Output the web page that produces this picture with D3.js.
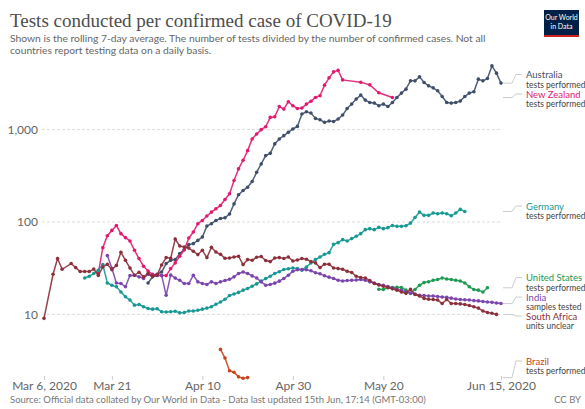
<!DOCTYPE html>
<html>
<head>
<meta charset="utf-8">
<script src="https://cdn.jsdelivr.net/npm/d3@7/dist/d3.min.js"></script>
<style>
body { margin: 0; background: #fff; }
text { font-family: Lato, "Open Sans", sans-serif; }
</style>
</head>
<body>
<svg id="chart" width="585" height="409"></svg>
<script>
// x axis ticks
var tickDates = ["2020-03-06", "2020-03-21", "2020-04-10", "2020-04-30", "2020-05-20", "2020-06-15"];
var tickLabels = ["Mar 6, 2020", "Mar 21", "Apr 10", "Apr 30", "May 20", "Jun 15, 2020"];
// y axis ticks
var yTicks = [10, 100, 1000];
var yTickLabels = ["10", "100", "1,000"];

// series, one value per day from the first date (null = no report that day)
var countries = ["Australia", "New Zealand", "Germany", "United States", "India", "South Africa", "Brazil"];
var notes = ["tests performed", "tests performed", "tests performed", "tests performed", "samples tested", "units unclear", "tests performed"];
var firstDates = ["2020-03-29", "2020-03-18", "2020-03-15", "2020-05-19", "2020-03-20", "2020-03-06", "2020-04-14"];

var australia = [21.9, 25.5, 27.2, 28.8, 35.5, 38.5, 39.2, 45.5, 50.2, 56.9, 58.3, 63.2, 68.7, 90.3, 95.9, 104, 109, 111, 122, 157,
  197, 219, 238, 274, 345, 425, 523, 553, 700, 792, 860, 933, 1015, 1083, 1473, 1560, 1510, 1321, 1279, 1197,
  1239, 1225, 1300, 1436, 1693, 1888, 2138, 2362, 2085, 1965, 1936, 1811, 1888, 1778, 1965, 2223, 2483, 2740, 3367, 3367,
  3721, 3228, 2975, 2831, 2630, 2281, 1965, 1936, 1965, 2033, 2281, 2483, 2564, 3513, 3367, 3566, 4887, 4083, 3184];
var newZealand = [28, 52.8, 71.1, 81.1, 91.8, 74.8, 67.7, 62.3, 49.4, 40.2, 33.2, 29.5, 27.2, 26.5, 26.3, 26.3, 31.3, 36.1, 42.6, 50,
  67, 77.8, 95.9, 104, 116, 128, 139, 151, 175, 202, 281, 376, 466, 592, 792, 897, 998, 1075, 1355, 1377,
  1778, 1667, 2000, 1811, 1693, 1710, 1888, 2030, 2223, 2323, 3027, 3631, 4217, 4375, 3451, null, null, null, 3258, null,
  3048, null, 2500, null, null, 2223];
var germany = [24.8, 25.9, 27.7, 30.1, 34.6, 21.9, 20.7, 19.9, 17.5, 15.5, 14.3, 12.6, 12.8, 12.1, 11.6, 11.4, 11.5, 10.7, 10.6, 10.7,
  10.8, 10.4, 10.5, 10.9, 10.9, 11.1, 11.4, 11.7, 12.1, 12.9, 13.6, 14.6, 16.0, 16.6, 17.3, 18.3, 19.1, 20.2, 21.4, 22.9,
  24.4, 25.9, 27.7, 29.0, 30.6, 31.2, 31.8, 31.3, 30.1, 32.6, 36.1, 39.2, 41.8, 44.7, 46.6, 57.3, 59.8, 64.4, 62.2, 66.1,
  70.0, 74.8, 82.6, 84.7, 82.6, 87.5, 84.7, 86.9, 91.8, 89.7, 89.7, 91.2, 97.3, 112, 128, 118, 118, 125, 123, 125,
  123, 117, 125, 137, 130];
var unitedStates = [18.7, 18.6, 19.5, 19.5, 19.7, 19.5, 18.3, 16.9, 18.6, 20.7, 22.1, 22.5, 23.4, 23.9, 24.8, 24.2, 23.9, 23.4, 23.0, 21.9,
  19.9, 18.6, 18.3, 17.5, 19.4];
var india = [43.3, 31.6, 21.9, 21.6, 19.9, 26.4, 26.5, 25.5, 24.5, 27.2, 25.9, 26.4, 26.5, 16.1, 26.7, 24.7, 23.4, 21.6, 21.6, 26.5,
  22.5, 21.6, 21.1, 22.5, 21.6, 22.5, 23.3, 24.0, 25.5, 27.7, 28.8, 27.7, 26.1, 24.8, 22.5, 20.7, 21.1, 21.8, 22.9, 24.5,
  26.5, 29.3, 30.4, 30.6, 30.4, 29.7, 28.2, 27.5, 26.2, 25.3, 24.5, 23.4, 23.0, 23.3, 23.4, 23.6, 23.9, 23.4, 22.5, 21.9,
  21.1, 20.6, 20.0, 19.3, 18.7, 18.2, 17.5, 17.0, 16.6, 16.1, 16.0, 15.8, 15.8, 15.6, 15.4, 15.3, 15.0, 14.7, 14.5, 14.4,
  14.3, 14.1, 14.0, 13.8, 13.6, 13.5, 13.3, 13.1];
var southAfrica = [9.06, null, 27.2, 40.2, 30.8, null, 35.5, 32.1, 29.1, 29.1, 29.1, 31.0, 26.4, 32.6, 34.9, 30.5, 33.9, 47.0, 38.5, 31.8,
  26.5, 28.6, 25.5, 27.7, 25.9, 26.7, 34.3, 41.2, 40.5, 65.5, 54.9, 53.6, 52.2, 48.2, 44.4, 49.4, 41.2, 53.2, 47.3, 44.7,
  40.5, 40.8, 41.8, 42.6, 34.6, 39.2, 38.5, 41.5, 42.3, 38.3, 37.3, 40.8, 41.2, 40.2, 41.8, 37.9, 38.8, 40.2, 39.5, 37.3,
  36.1, 32.1, 34.9, 34.9, 31.8, 31.3, 30.8, 29.3, 28.4, 25.9, 25.1, 24.8, 23.3, 21.6, 20.8, 20.2, 19.5, 18.9, 18.3, 17.5,
  16.9, 18.7, 16.4, 15.8, 14.9, 14.6, 14.5, 14.3, 13.1, 14.5, 13.1, 13.1, 13.0, 12.8, 12.5, 12.1, 11.7, 10.9, 10.5, 10.3,
  10.0];
var brazil = [4.18, 3.37, 2.46, 2.37, 2.11, 2.04, 2.07];

var seriesValues = [australia, newZealand, germany, unitedStates, india, southAfrica, brazil];
var colors = ["#3f4f6a", "#e2196f", "#179892", "#1d9a52", "#7a45ad", "#8c2f3b", "#c8431d"];
// where the right hand labels sit (baseline of the country name)
var labelBaselines = [78, 97.5, 209.5, 281, 300.5, 319.5, 364.5];

var parseDate = d3.utcParse("%Y-%m-%d");
var svg = d3.select("#chart");

var x = d3.scaleUtc()
  .domain([parseDate("2020-03-06"), parseDate("2020-06-15")])
  .range([44, 501]);
var y = d3.scaleLog()
  .domain([2, 5000])
  .range([379, 65]);

// title + subtitle
svg.append("text")
  .attr("x", 10).attr("y", 26.5)
  .style("font-family", "'Liberation Serif', 'DejaVu Serif', serif")
  .style("font-size", "19px")
  .attr("fill", "#4d4d4d")
  .text("Tests conducted per confirmed case of COVID-19");
var subtitle = ["Shown is the rolling 7-day average. The number of tests divided by the number of confirmed cases. Not all",
  "countries report testing data on a daily basis."];
svg.selectAll(".subtitle").data(subtitle).enter().append("text")
  .attr("class", "subtitle")
  .attr("x", 10)
  .attr("y", function(d, i) { return 42 + i * 11.5; })
  .style("font-size", "10.3px")
  .attr("fill", "#666")
  .text(function(d) { return d; });

// logo
var logo = svg.append("g");
logo.append("rect").attr("x", 544).attr("y", 10).attr("width", 35).attr("height", 27).attr("fill", "#002147");
logo.append("rect").attr("x", 544).attr("y", 35).attr("width", 35).attr("height", 2).attr("fill", "#ce261e");
logo.append("text").attr("x", 561.5).attr("y", 20).attr("text-anchor", "middle")
  .style("font-size", "7px").attr("fill", "#fff").text("Our World");
logo.append("text").attr("x", 561.5).attr("y", 29).attr("text-anchor", "middle")
  .style("font-size", "7px").attr("fill", "#fff").text("in Data");

// grid + y labels
svg.selectAll(".grid").data(yTicks).enter().append("line")
  .attr("class", "grid")
  .attr("x1", 42).attr("x2", 501)
  .attr("y1", function(d) { return y(d); })
  .attr("y2", function(d) { return y(d); })
  .attr("stroke", "#ddd")
  .attr("stroke-dasharray", "3,2");
svg.selectAll(".ylab").data(yTicks).enter().append("text")
  .attr("class", "ylab")
  .attr("x", 38)
  .attr("y", function(d) { return y(d); })
  .attr("dy", "0.35em")
  .attr("text-anchor", "end")
  .style("font-size", "12px")
  .attr("fill", "#666")
  .text(function(d, i) { return yTickLabels[i]; });

// x axis
var xAxis = d3.axisBottom(x)
  .tickValues(tickDates.map(parseDate))
  .tickFormat(function(d, i) { return tickLabels[i]; })
  .tickSize(4)
  .tickPadding(1);
var gx = svg.append("g").attr("transform", "translate(0,376)").call(xAxis);
gx.select(".domain").remove();
gx.selectAll(".tick line").attr("stroke", "#ccc");
gx.selectAll(".tick text").style("font-size", "12px").attr("fill", "#666").style("font-family", "Lato, sans-serif");

// lines
var line = d3.line()
  .x(function(d) { return x(d.date); })
  .y(function(d) { return y(d.value); });

var lastPoints = [];
for (var i = 0; i < countries.length; i++) {
  var start = parseDate(firstDates[i]);
  var pts = [];
  seriesValues[i].forEach(function(v, k) {
    if (v != null) pts.push({ date: d3.utcDay.offset(start, k), value: v });
  });
  lastPoints.push(pts[pts.length - 1]);
  var g = svg.append("g");
  g.append("path").datum(pts)
    .attr("d", line)
    .attr("fill", "none")
    .attr("stroke", colors[i])
    .attr("stroke-width", 1.5)
    .attr("stroke-opacity", 0.9);
  g.selectAll("circle").data(pts).enter().append("circle")
    .attr("cx", function(d) { return x(d.date); })
    .attr("cy", function(d) { return y(d.value); })
    .attr("r", 1.8)
    .attr("fill", colors[i]);
}

// labels on the right
for (i = 0; i < countries.length; i++) {
  var yEnd = y(lastPoints[i].value);
  var yLab = labelBaselines[i] - 3.5;
  svg.append("polyline")
    .attr("points", [[503, yEnd], [512, yEnd], [516, yLab], [522, yLab]].map(function(p) { return p.join(","); }).join(" "))
    .attr("fill", "none")
    .attr("stroke", "#ccc");
  svg.append("text")
    .attr("x", 526).attr("y", labelBaselines[i])
    .style("font-size", "9.5px")
    .attr("fill", colors[i])
    .text(countries[i]);
  svg.append("text")
    .attr("x", 526).attr("y", labelBaselines[i] + 9.5)
    .style("font-size", "8.5px")
    .attr("fill", "#444")
    .text(notes[i]);
}

// footer
svg.append("text").attr("x", 10).attr("y", 403)
  .style("font-size", "9.5px").attr("fill", "#777")
  .text("Source: Official data collated by Our World in Data - Data last updated 15th Jun, 17:14 (GMT-03:00)");
svg.append("text").attr("x", 581).attr("y", 403).attr("text-anchor", "end")
  .style("font-size", "9.5px").attr("fill", "#777")
  .text("CC BY");
</script>
</body>
</html>
